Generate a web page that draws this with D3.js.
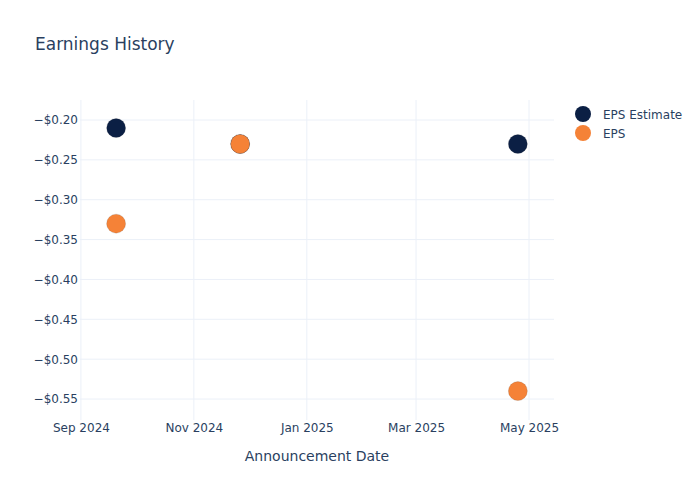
<!DOCTYPE html>
<html>
<head>
<meta charset="utf-8">
<script src="https://cdn.jsdelivr.net/npm/d3@7"></script>
<style>
  body { margin: 0; background: #fff; }
  svg { font-family: "DejaVu Sans", sans-serif; }
</style>
</head>
<body>
<svg id="chart"></svg>
<script>
// announcement dates and values
const dates = ["2024-09-20", "2024-11-26", "2025-04-25"];
const epsEstimate = [-0.21, -0.23, -0.23];
const eps = [-0.33, -0.23, -0.54];
const seriesNames = ["EPS Estimate", "EPS"];
const seriesColors = ["#0b1f44", "#f58237"];
const xTicks = ["2024-09-01", "2024-11-01", "2025-01-01", "2025-03-01", "2025-05-01"];
const yTicks = [-0.20, -0.25, -0.30, -0.35, -0.40, -0.45, -0.50, -0.55];
const xRange = ["2024-08-31T12:00", "2025-05-14T12:00"];
const yRange = [-0.5763, -0.1749];

const width = 700, height = 500;
const margin = {top: 100, right: 146, bottom: 80, left: 80};
const parse = s => new Date(s + (s.length === 10 ? "T00:00Z" : "Z"));

const svg = d3.select("#chart")
  .attr("width", width)
  .attr("height", height);

const x = d3.scaleUtc()
  .domain(xRange.map(parse))
  .range([margin.left, width - margin.right]);

const y = d3.scaleLinear()
  .domain(yRange)
  .range([height - margin.bottom, margin.top]);

const gridColor = "#ebf0f8";
const textColor = "#2a3f5f";

// gridlines
svg.append("g")
  .selectAll("line")
  .data(xTicks.map(parse))
  .join("line")
  .attr("x1", d => x(d)).attr("x2", d => x(d))
  .attr("y1", margin.top).attr("y2", height - margin.bottom)
  .attr("stroke", gridColor);

svg.append("g")
  .selectAll("line")
  .data(yTicks)
  .join("line")
  .attr("x1", margin.left).attr("x2", width - margin.right)
  .attr("y1", d => y(d)).attr("y2", d => y(d))
  .attr("stroke", gridColor);

// axes (labels only, plotly style)
const fmtMoney = v => (v < 0 ? "\u2212" : "") + "$" + Math.abs(v).toFixed(2);

const yAxis = svg.append("g")
  .attr("transform", `translate(${margin.left},0)`)
  .call(d3.axisLeft(y).tickValues(yTicks).tickFormat(fmtMoney).tickSize(0).tickPadding(2));
yAxis.select(".domain").remove();
yAxis.selectAll("text")
  .attr("fill", textColor)
  .style("font-size", "12px")
  .style("font-family", "DejaVu Sans");

const xAxis = svg.append("g")
  .attr("transform", `translate(0,${height - margin.bottom})`)
  .call(d3.axisBottom(x).tickValues(xTicks.map(parse)).tickFormat(d3.utcFormat("%b %Y")).tickSize(0).tickPadding(3));
xAxis.select(".domain").remove();
xAxis.selectAll("text")
  .attr("fill", textColor)
  .style("font-size", "12px")
  .style("font-family", "DejaVu Sans");

// points
const series = [epsEstimate, eps];
series.forEach((vals, i) => {
  svg.append("g")
    .selectAll("circle")
    .data(vals.map((v, j) => ({date: parse(dates[j]), value: v})))
    .join("circle")
    .attr("cx", d => x(d.date))
    .attr("cy", d => y(d.value))
    .attr("r", 9.5)
    .attr("fill", seriesColors[i])
    .attr("stroke", "rgba(60,60,60,0.3)")
    .attr("stroke-width", 0.5);
});

// title
svg.append("text")
  .attr("x", 35)
  .attr("y", 50)
  .attr("fill", textColor)
  .style("font-size", "17px")
  .text("Earnings History");

svg.append("text")
  .attr("x", (margin.left + width - margin.right) / 2)
  .attr("y", 461)
  .attr("text-anchor", "middle")
  .attr("fill", textColor)
  .style("font-size", "14px")
  .text("Announcement Date");

// legend
const legend = svg.append("g")
  .selectAll("g")
  .data(seriesNames)
  .join("g")
  .attr("transform", (d, i) => `translate(583,${114 + i * 19})`);

legend.append("circle")
  .attr("r", 8)
  .attr("fill", (d, i) => seriesColors[i]);

legend.append("text")
  .attr("x", 20)
  .attr("y", 4.5)
  .attr("fill", textColor)
  .style("font-size", "12px")
  .text(d => d);
</script>
</body>
</html>
